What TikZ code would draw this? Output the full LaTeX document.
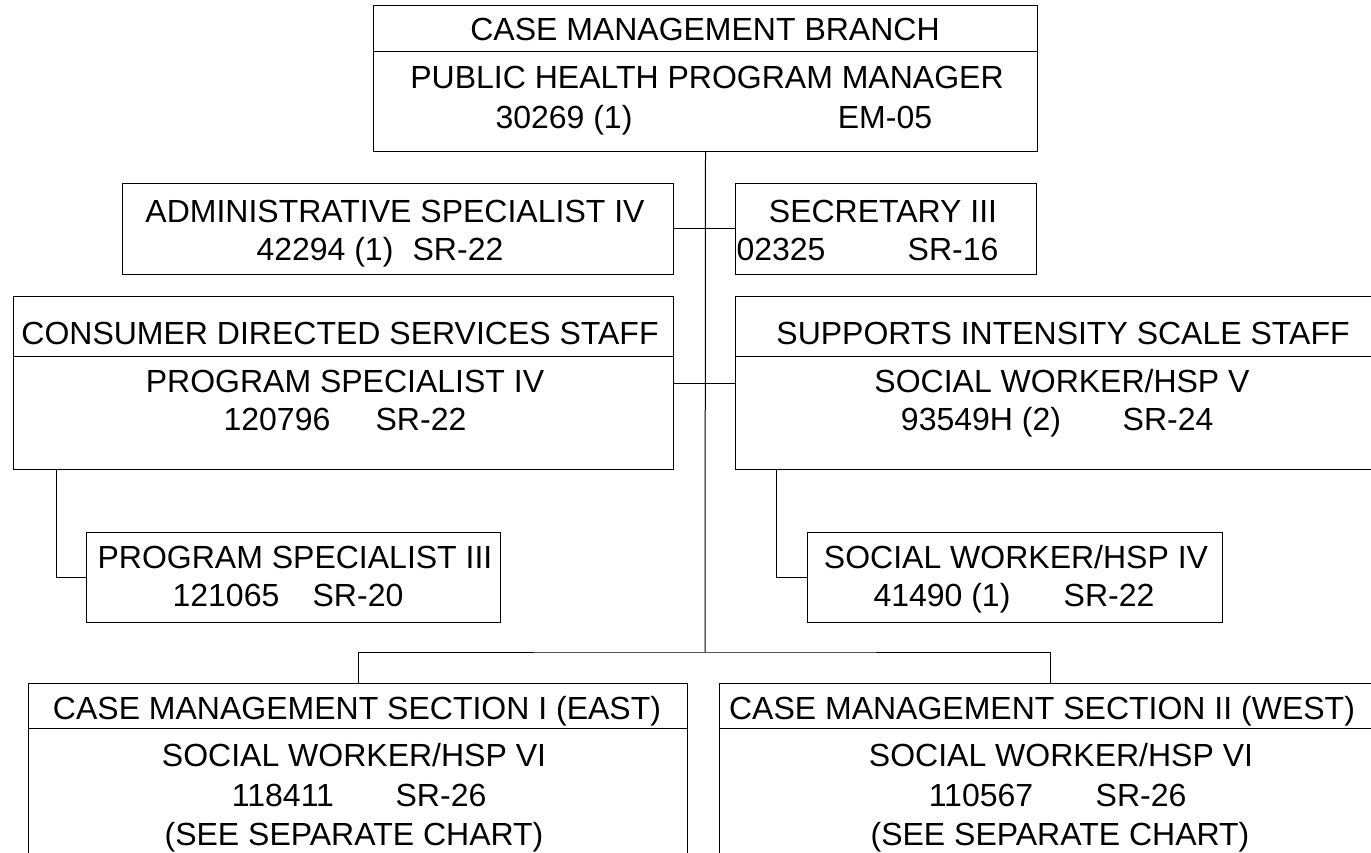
\documentclass[tikz,border=0pt]{standalone}
\usepackage{fontspec}
\setmainfont{Liberation Sans}
\usepackage{tikz}
\tikzset{box/.style={draw, line width=1pt, anchor=north west, inner sep=0pt},
  txt/.style={inner sep=0pt, text height=23pt, text depth=0pt, font=\fontsize{32}{38}\selectfont}}

\begin{document}
\begin{tikzpicture}[x=1pt, y=-1pt, line width=1pt]
    \useasboundingbox (0,0) rectangle (1371,853);
    \clip (0,0) rectangle (1371,853);
    % boxes
    \node[box, minimum width=664pt, minimum height=146pt] (branch) at (373,5) {};
    \node[box, minimum width=551pt, minimum height=91pt] (admin) at (122,183) {};
    \node[box, minimum width=301pt, minimum height=91pt] (secr) at (735,183) {};
    \node[box, minimum width=660pt, minimum height=173pt] (cds) at (13,296) {};
    \node[box, minimum width=660pt, minimum height=173pt] (sis) at (735,296) {};
    \node[box, minimum width=414pt, minimum height=90pt] (ps3) at (86,532) {};
    \node[box, minimum width=415pt, minimum height=90pt] (sw4) at (807,532) {};
    \node[box, minimum width=659pt, minimum height=230pt] (east) at (28,683) {};
    \node[box, minimum width=661pt, minimum height=230pt] (west) at (719,683) {};
    \draw (branch.west |- 0,52) -- (branch.east |- 0,52);
    \draw (cds.west |- 0,356) -- (cds.east |- 0,356);
    \draw (sis.west |- 0,356) -- (sis.east |- 0,356);
    \draw (east.west |- 0,728) -- (east.east |- 0,728);
    \draw (west.west |- 0,728) -- (west.east |- 0,728);
    % lines
    \coordinate (split) at (705,652);
    \draw (branch.south) -- (split);
    \draw (admin.east) -- (secr.west);
    \draw (cds.east) -- (sis.west);
    \draw ([xshift=43pt]cds.south west) |- (ps3.west);
    \draw ([xshift=41pt]sis.south west) |- (sw4.west);
    \draw (east.north) |- (split) -| (west.north);
    % texts
    \node[txt] (t1) at (705,29) {CASE MANAGEMENT BRANCH};
    \node[txt] (t2) at (707,77) {PUBLIC HEALTH PROGRAM MANAGER};
    \node[txt] (t3) at (564,117) {30269 (1)};
    \node[txt] (t4) at (885,117) {EM-05};
    \node[txt] (a1) at (395,211) {ADMINISTRATIVE SPECIALIST IV};
    \node[txt] (a2) at (325,249) {42294 (1)};
    \node[txt] (a3) at (458,249) {SR-22};
    \node[txt] (s1) at (883,211) {SECRETARY III};
    \node[txt] (s2) at (781,249) {02325};
    \node[txt] (s3) at (953,249) {SR-16};
    \node[txt] (c1) at (340,333) {CONSUMER DIRECTED SERVICES STAFF};
    \node[txt] (c2) at (345,381) {PROGRAM SPECIALIST IV};
    \node[txt] (c3) at (277,419) {120796};
    \node[txt] (c4) at (421,419) {SR-22};
    \node[txt] (i1) at (1063,333) {SUPPORTS INTENSITY SCALE STAFF};
    \node[txt] (i2) at (1062,381) {SOCIAL WORKER/HSP V};
    \node[txt] (i3) at (981,419) {93549H (2)};
    \node[txt] (i4) at (1168,419) {SR-24};
    \node[txt] (p1) at (295,557) {PROGRAM SPECIALIST III};
    \node[txt] (p2) at (226,595) {121065};
    \node[txt] (p3) at (358,595) {SR-20};
    \node[txt] (w1) at (1016,557) {SOCIAL WORKER/HSP IV};
    \node[txt] (w2) at (942,595) {41490 (1)};
    \node[txt] (w3) at (1109,595) {SR-22};
    \node[txt] (e1) at (357,708) {CASE MANAGEMENT SECTION I (EAST)};
    \node[txt] (e2) at (354,755) {SOCIAL WORKER/HSP VI};
    \node[txt] (e3) at (283,795) {118411};
    \node[txt] (e4) at (441,795) {SR-26};
    \node[txt] (e5) at (354,834) {(SEE SEPARATE CHART)};
    \node[txt] (v1) at (1042,708) {CASE MANAGEMENT SECTION II (WEST)};
    \node[txt] (v2) at (1061,755) {SOCIAL WORKER/HSP VI};
    \node[txt] (v3) at (981,795) {110567};
    \node[txt] (v4) at (1141,795) {SR-26};
    \node[txt] (v5) at (1060,834) {(SEE SEPARATE CHART)};
\end{tikzpicture}
\end{document}
